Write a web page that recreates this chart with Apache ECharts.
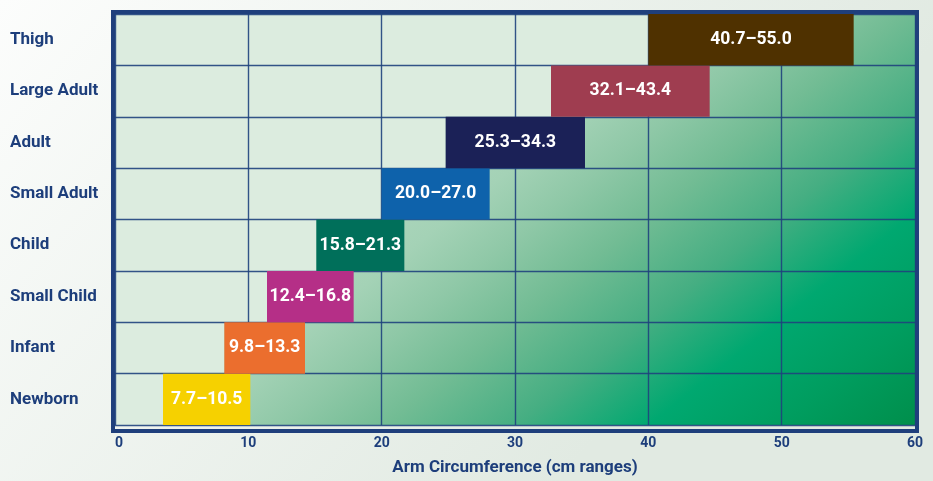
<!DOCTYPE html>
<html>
<head>
<meta charset="utf-8">
<script src="https://cdn.jsdelivr.net/npm/echarts@6/dist/echarts.min.js"></script>
<style>
html,body{margin:0;padding:0;width:933px;height:481px;overflow:hidden;}
#c{width:933px;height:481px;}
</style>
</head>
<body>
<div id="c"></div>
<script>
// ---- data ----
var categories = ['Newborn', 'Infant', 'Small Child', 'Child', 'Small Adult', 'Adult', 'Large Adult', 'Thigh'];
var rangeLabels = ['7.7–10.5', '9.8–13.3', '12.4–16.8', '15.8–21.3', '20.0–27.0', '25.3–34.3', '32.1–43.4', '40.7–55.0'];
var barStart = [3.6, 8.2, 11.4, 15.1, 20.0, 24.8, 32.7, 40.0];
var barEnd = [10.15, 14.25, 17.9, 21.7, 28.1, 35.25, 44.6, 55.4];
var barColors = ['#f6d100', '#eb6e2e', '#b52f87', '#006f5a', '#0e62ab', '#1b2157', '#9f3d50', '#4f3100'];
var xTicks = [0, 10, 20, 30, 40, 50, 60];
var xAxisTitle = 'Arm Circumference (cm ranges)';

var FONT = 'Roboto, "Liberation Sans", sans-serif';
var NAVY = '#1d3e7b';

var spanData = barEnd.map(function (e, i) {
  return {
    value: +(e - barStart[i]).toFixed(2),
    itemStyle: { color: barColors[i] },
    label: { formatter: rangeLabels[i] }
  };
});

var chart = echarts.init(document.getElementById('c'), null, { renderer: 'canvas' });

var gL = 115, gR = 18, gT = 14, gB = 52;

chart.setOption({
  backgroundColor: {
    type: 'linear', x: 0, y: 0, x2: 0.6, y2: 1,
    colorStops: [{ offset: 0, color: '#fcfdfc' }, { offset: 1, color: '#e1eae2' }]
  },
  animation: false,
  grid: {
    left: gL, right: gR, top: gT, bottom: gB,
    show: true,
    borderWidth: 0,
    backgroundColor: {
      type: 'linear', global: true,
      x: 115, y: 14, x2: 623, y2: 654,
      colorStops: [
        { offset: 0, color: '#dcecdf' },
        { offset: 0.45, color: '#a4d2b6' },
        { offset: 0.52, color: '#8fc8a7' },
        { offset: 0.6, color: '#72bc94' },
        { offset: 0.7, color: '#45ae82' },
        { offset: 0.8, color: '#00a870' },
        { offset: 0.9, color: '#009d5f' },
        { offset: 1, color: '#008f4c' }
      ]
    }
  },
  xAxis: {
    type: 'value',
    min: 0, max: 60, interval: 10,
    z: 3,
    name: xAxisTitle,
    nameLocation: 'middle',
    nameGap: 34,
    nameTextStyle: { color: NAVY, fontFamily: FONT, fontWeight: 'bold', fontSize: 17 },
    axisLine: { show: false },
    axisTick: { show: false },
    axisLabel: {
      color: NAVY, fontFamily: FONT, fontWeight: 'bold', fontSize: 14, margin: 11,
      alignMinLabel: 'left',
      formatter: function (v) { return xTicks.indexOf(v) >= 0 ? String(v) : ''; }
    },
    splitLine: { show: true, lineStyle: { color: '#1f437d', width: 1.4, opacity: 0.9 } }
  },
  yAxis: {
    type: 'category',
    data: categories,
    z: 3,
    axisLine: { show: false },
    axisTick: { show: false },
    axisLabel: {
      color: NAVY, fontFamily: FONT, fontWeight: 'bold', fontSize: 17,
      align: 'left', margin: 105
    },
    splitLine: { show: true, lineStyle: { color: '#1f437d', width: 1.4, opacity: 0.9 } }
  },
  series: [
    {
      type: 'bar',
      stack: 'r',
      data: barStart,
      barWidth: '100%',
      z: 1,
      silent: true,
      itemStyle: { color: '#dcecdf' }
    },
    {
      type: 'bar',
      stack: 'r',
      data: spanData,
      barWidth: '100%',
      z: 5,
      label: {
        show: true, position: 'inside',
        color: '#ffffff', fontFamily: FONT, fontWeight: 'bold', fontSize: 17.5
      }
    }
  ],
  graphic: [{
    type: 'rect',
    z: 100,
    silent: true,
    shape: { x: gL - 2, y: gT - 2, width: 933 - gL - gR + 4, height: 481 - gT - gB + 4 },
    style: { fill: 'none', stroke: '#1f3f7c', lineWidth: 4 }
  }]
});
</script>
</body>
</html>
